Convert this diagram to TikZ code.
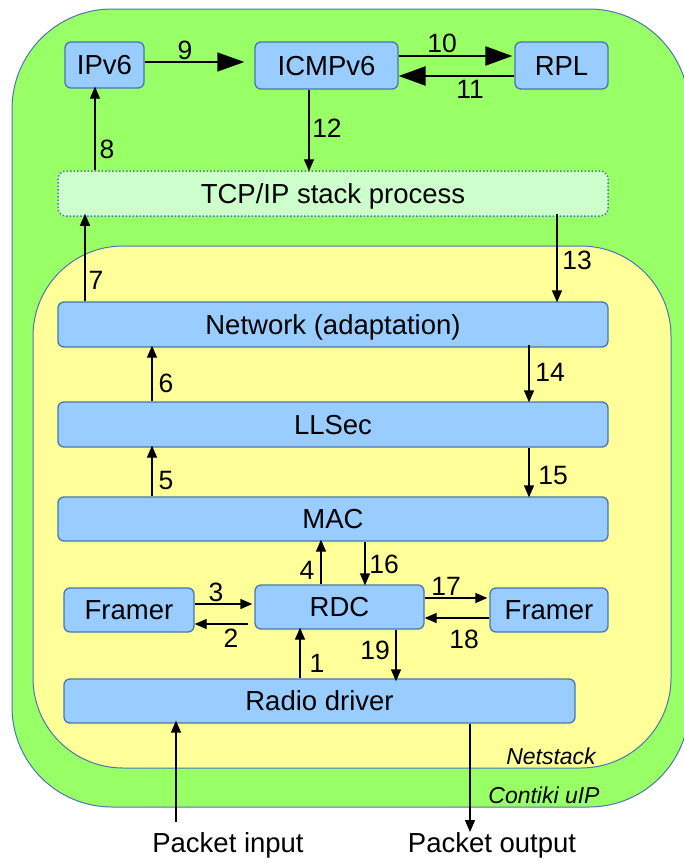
\documentclass[tikz,border=0pt]{standalone}
\usepackage{fontspec}
\setmainfont{Liberation Sans}
\usetikzlibrary{arrows.meta}
\definecolor{uipgreen}{HTML}{99FF66}
\definecolor{nsyellow}{HTML}{FFFF99}
\definecolor{boxblue}{HTML}{99CCFF}
\definecolor{edgeblue}{HTML}{4A76B0}
\definecolor{procgreen}{HTML}{CCFFCC}
\tikzset{
  layer/.style={draw=edgeblue, line width=1pt},
  block/.style={draw=edgeblue, fill=boxblue, line width=1.3pt, rounded corners=6pt,
    inner sep=0pt, font=\fontsize{27.5}{31}\selectfont, text height=19.7pt, text depth=0pt},
  proc/.style={draw=edgeblue, fill=procgreen, line width=1.5pt, rounded corners=8pt,
    dash pattern=on 1.5pt off 2pt, inner sep=0pt, font=\fontsize{27.5}{31}\selectfont,
    text height=19.7pt, text depth=0pt},
  flow/.style={line width=1.3pt, -{Triangle[length=12pt,width=10pt]}},
  bigflow/.style={-{Triangle[length=27pt,width=19pt]}},
  num/.style={font=\fontsize{26.5}{30}\selectfont, inner sep=0pt, text height=19pt, text depth=0pt},
  tag/.style={font=\fontsize{23}{27}\selectfont\itshape, inner sep=0pt, text height=16.5pt, text depth=0pt},
  endlabel/.style={font=\fontsize{27.5}{31}\selectfont, inner sep=0pt, text height=19.7pt, text depth=0pt},
}
\begin{document}
\begin{tikzpicture}[x=1pt,y=-1pt]
\useasboundingbox (0,0) rectangle (683,862);
\fill[white] (0,0) rectangle (683,862);

% enclosing regions
\draw[layer, fill=uipgreen, rounded corners=100pt] (12,9) rectangle (689,807);
\draw[layer, fill=nsyellow, rounded corners=90pt] (33,246) rectangle (671,768);

% upper IP layer
\node[block, minimum width=79pt, minimum height=46pt] (ipv6) at (104.5,65) {IPv6};
\node[block, minimum width=143pt, minimum height=47pt] (icmp) at (326.5,65.5) {ICMPv6};
\node[block, minimum width=93pt, minimum height=47pt] (rpl) at (561.5,65.5) {RPL};
\node[proc, minimum width=550pt, minimum height=45pt] (tcpip) at (333,193.5) {TCP/IP stack process};

% netstack layers
\node[block, minimum width=550pt, minimum height=45pt] (net) at (333,324.5) {Network (adaptation)};
\node[block, minimum width=550pt, minimum height=45pt] (llsec) at (333,424.5) {LLSec};
\node[block, minimum width=550pt, minimum height=44pt] (mac) at (333,519) {MAC};
\node[block, minimum width=130pt, minimum height=44pt] (frl) at (129,610) {Framer};
\node[block, minimum width=169pt, minimum height=44pt] (rdc) at (339.5,607) {RDC};
\node[block, minimum width=118pt, minimum height=44pt] (frr) at (549,610) {Framer};
\node[block, minimum width=511pt, minimum height=44pt] (radio) at (319.5,701) {Radio driver};

% external ends
\coordinate (pin) at (176,822);
\coordinate (pout) at (470,832);
\node[endlabel] (intext) at (228,843) {Packet input};
\node[endlabel] (outtext) at (492,843) {Packet output};

% region labels
\node[tag] (nslabel) at (551,756) {Netstack};
\node[tag] (uiplabel) at (544,795) {Contiki uIP};

% top row
\draw[bigflow, line width=1.4pt] (ipv6.east |- 0,62) -- ([xshift=-10pt]icmp.west |- 0,62);
\draw[bigflow, line width=2.4pt] (icmp.east |- 0,56) -- ([xshift=-2pt]rpl.west |- 0,56);
\draw[bigflow, line width=2.4pt] (rpl.west |- 0,76) -- (icmp.east |- 0,76);
\node[num] (n9) at (185,50) {9};
\node[num] (n10) at (442,43) {10};
\node[num] (n11) at (470,89) {11};

% between IP layer and process
\draw[flow] (icmp.south -| 309,0) -- ([yshift=-1pt]tcpip.north -| 309,0);
\node[num] (n12) at (327,128) {12};
\draw[flow] (tcpip.north -| 95,0) -- ([yshift=2pt]ipv6.south -| 95,0);
\node[num] (n8) at (107,149) {8};
\draw[flow] (net.north -| 85,0) -- ([yshift=3pt]tcpip.south -| 85,0);
\node[num] (n7) at (96,280) {7};
\draw[flow] ([yshift=3pt]tcpip.south -| 557,0) -- ([yshift=-1pt]net.north -| 557,0);
\node[num] (n13) at (577,260) {13};

% netstack flows
\draw[flow] (llsec.north -| 152,0) -- ([yshift=2pt]net.south -| 152,0);
\node[num] (n6) at (166,383) {6};
\draw[flow] ([yshift=3pt]net.south -| 529,0) -- ([yshift=-1pt]llsec.north -| 529,0);
\node[num] (n14) at (550,372) {14};
\draw[flow] (mac.north -| 152,0) -- ([yshift=2pt]llsec.south -| 152,0);
\node[num] (n5) at (166,480) {5};
\draw[flow] (llsec.south -| 529,0) -- ([yshift=-1pt]mac.north -| 529,0);
\node[num] (n15) at (553,475) {15};

\draw[flow] (rdc.north -| 321,0) -- ([yshift=2pt]mac.south -| 321,0);
\node[num] (n4) at (307,570) {4};
\draw[flow] (mac.south -| 365,0) -- ([yshift=-1pt]rdc.north -| 365,0);
\node[num] (n16) at (384,564) {16};

\draw[flow] (frl.east |- 0,604) -- ([xshift=-2pt]rdc.west |- 0,604);
\node[num] (n3) at (216,592) {3};
\draw[flow] ([xshift=-6pt]rdc.west |- 0,624) -- (frl.east |- 0,624);
\node[num] (n2) at (231,638) {2};
\draw[flow] (rdc.east |- 0,598) -- ([xshift=-2pt]frr.west |- 0,598);
\node[num] (n17) at (446,586) {17};
\draw[flow] (frr.west |- 0,618) -- (rdc.east |- 0,618);
\node[num] (n18) at (464,639) {18};

\draw[flow] (rdc.south -| 396,0) -- ([yshift=-3pt]radio.north -| 396,0);
\node[num] (n19) at (375,650) {19};
\draw[flow] (radio.north -| 300,0) -- ([yshift=2pt]rdc.south -| 300,0);
\node[num] (n1) at (317,663) {1};

\draw[flow] (pin) -- ([yshift=3pt]radio.south -| pin);
\draw[flow] (radio.south -| pout) -- (pout);
\end{tikzpicture}
\end{document}
